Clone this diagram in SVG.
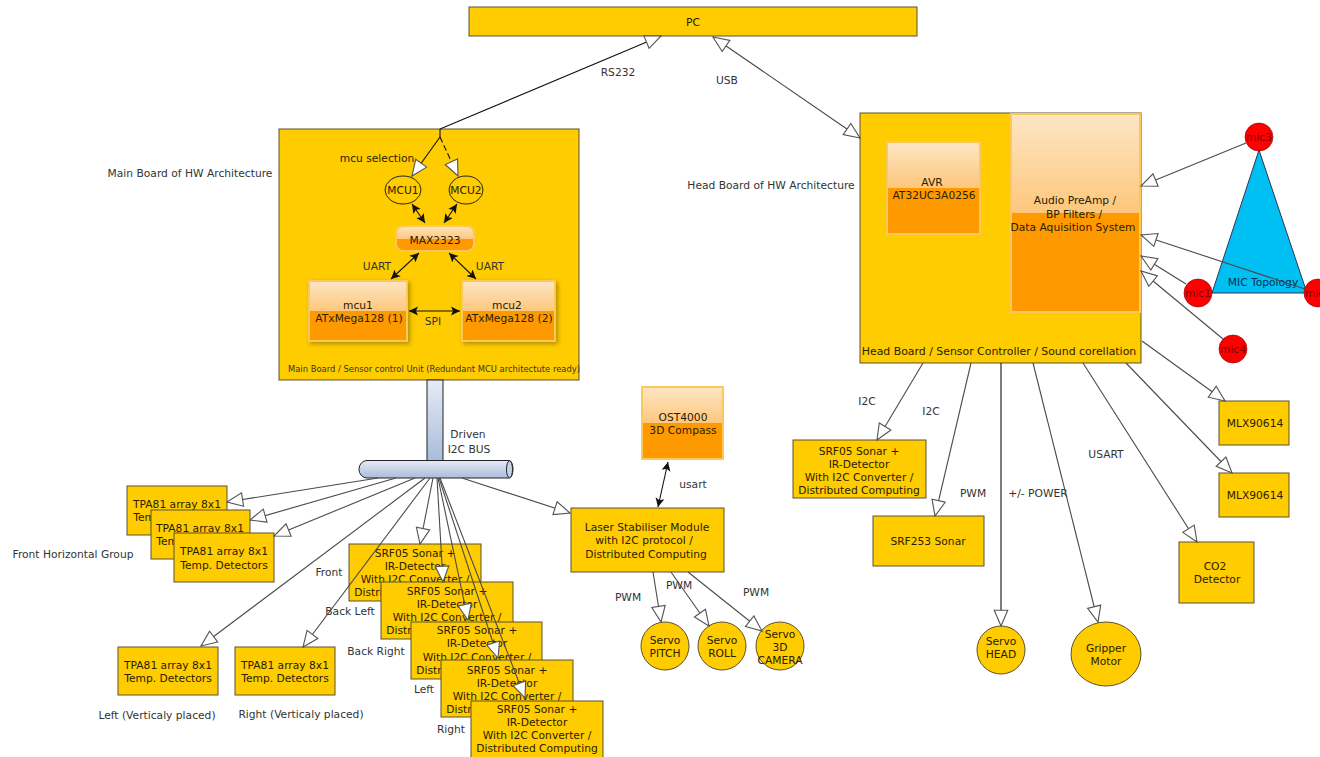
<svg xmlns="http://www.w3.org/2000/svg" width="1320" height="757" viewBox="0 0 1320 757">
<style>
text{font-family:"DejaVu Sans","Liberation Sans",sans-serif;font-size:10.7px;fill:#333;text-anchor:middle}
.b{fill:#fc0;stroke:#5a5030;stroke-width:1}
.g{fill:url(#gl);stroke:#fdc85a;stroke-width:2}
.m{fill:#f00;stroke:#800;stroke-width:.6}
.m2 text{fill:#800}
.t{fill:#2a2000}
.c line,.c path{fill:none;stroke:#4a4a4a;stroke-width:1.1}
.o{marker-end:url(#open)}
.oo{marker-end:url(#open);marker-start:url(#open)}
.d{marker-end:url(#fill);marker-start:url(#fill)}
.k{stroke:#111!important}
</style>
<defs>
<linearGradient id="gl" x1="0" y1="0" x2="0" y2="1"><stop offset="0" stop-color="#fde6c4"/><stop offset=".5" stop-color="#fdc77c"/><stop offset=".5" stop-color="#f90"/><stop offset="1" stop-color="#f90"/></linearGradient>
<linearGradient id="pv" x1="0" y1="0" x2="0" y2="1"><stop offset="0" stop-color="#e6ebf6"/><stop offset="1" stop-color="#a9bcdb"/></linearGradient>
<marker id="open" markerUnits="userSpaceOnUse" markerWidth="18" markerHeight="16" refX="15" refY="7" orient="auto-start-reverse" viewBox="0 0 16 14"><path d="M1 1L15 7L1 13Z" fill="#fff" stroke="#555" stroke-width="1"/></marker>
<marker id="fill" markerUnits="userSpaceOnUse" markerWidth="10" markerHeight="10" refX="9" refY="4.500" orient="auto-start-reverse" viewBox="0 0 10 9"><path d="M0 0L9 4.500L0 9L2 4.500Z" fill="#111"/></marker>
<filter id="sh" x="-10%" y="-10%" width="125%" height="125%"><feDropShadow dx="2" dy="2" stdDeviation="2" flood-color="#000" flood-opacity=".3"/></filter>
</defs>
<g id="labels">
<text x="618" y="76">RS232</text><text x="727" y="84">USB</text>
<text x="190" y="177">Main Board of HW Architecture</text>
<text x="771" y="189">Head Board of HW Architecture</text>
<text x="73" y="558">Front Horizontal Group</text>
<text x="157" y="719">Left (Verticaly placed)</text>
<text x="301" y="718">Right (Verticaly placed)</text>
<text x="329" y="576">Front</text><text x="350" y="615">Back Left</text><text x="376" y="655">Back Right</text><text x="424" y="693">Left</text><text x="451" y="733">Right</text>
<text x="468" y="438">Driven</text><text x="469" y="453">I2C BUS</text>
<text x="693" y="488">usart</text><text x="628" y="601">PWM</text><text x="679" y="589">PWM</text><text x="756" y="596">PWM</text>
<text x="867" y="405">I2C</text><text x="931" y="415">I2C</text><text x="973" y="497">PWM</text><text x="1038" y="497">+/- POWER</text><text x="1106" y="458">USART</text>
</g>
<g id="pc"><rect class="b" x="469" y="7" width="448" height="29"/><text x="693" y="26" class="t">PC</text></g>
<g id="main-board"><rect class="b" x="279" y="129" width="300" height="251"/><text x="434" y="372" style="font-size:8.4px">Main Board / Sensor control Unit (Redundant MCU architectute ready)</text><text x="377" y="162" class="t">mcu selection</text><text x="377" y="270">UART</text><text x="490" y="270">UART</text><text x="433" y="325">SPI</text></g>
<g id="mcu1-sel"><ellipse class="b" cx="403" cy="190" rx="18" ry="14" style="stroke:#222"/><text x="403" y="194" class="t">MCU1</text></g>
<g id="mcu2-sel"><ellipse class="b" cx="466" cy="190" rx="17" ry="14" style="stroke:#222"/><text x="466" y="194" class="t">MCU2</text></g>
<g id="max2323"><rect class="g" x="396" y="226" width="78" height="25" rx="7"/><text x="435" y="244" class="t">MAX2323</text></g>
<g id="mcu1"><rect class="g" filter="url(#sh)" x="309" y="281" width="98" height="60"/><text x="358" y="309" class="t">mcu1</text><text x="359" y="322" class="t">ATxMega128 (1)</text></g>
<g id="mcu2"><rect class="g" filter="url(#sh)" x="462" y="281" width="93" height="60"/><text x="507" y="309" class="t">mcu2</text><text x="509" y="322" class="t">ATxMega128 (2)</text></g>
<g id="head-board"><rect class="b" x="860" y="113" width="281" height="250"/><text x="999" y="355" class="t" style="font-size:10.9px">Head Board / Sensor Controller / Sound corellation</text></g>
<g id="avr"><rect class="g" x="887" y="142" width="93" height="92"/><text x="932" y="186" class="t">AVR</text><text x="934" y="199" class="t">AT32UC3A0256</text></g>
<g id="audio"><rect class="g" x="1011" y="114" width="129" height="198"/><text x="1075" y="204" class="t">Audio PreAmp /</text><text x="1074" y="218" class="t">BP Filters /</text><text x="1073" y="231" class="t">Data Aquisition System</text></g>
<g id="mic-topology"><path d="M1259 150L1307 293H1212Z" fill="#00bff2" stroke="#335"/><text x="1263" y="286" style="fill:#035">MIC Topology</text></g>
<g id="mic3" class="m2"><circle class="m" cx="1259" cy="137" r="14"/><text x="1259" y="141">mic3</text></g>
<g id="mic1" class="m2"><circle class="m" cx="1198" cy="293" r="14"/><text x="1198" y="297">mic1</text></g>
<g id="mic2" class="m2"><circle class="m" cx="1318" cy="293" r="14"/><text x="1318" y="297">mic2</text></g>
<g id="mic4" class="m2"><circle class="m" cx="1233" cy="349" r="14"/><text x="1233" y="353">mic4</text></g>
<g id="bus"><rect x="427" y="380" width="16" height="81" fill="url(#pv)" stroke="#222"/><path d="M367 460.500H509A4 8.700 0 0 1 509 478H367A8 8.700 0 0 1 367 460.500Z" fill="url(#pv)" stroke="#222"/><ellipse cx="509.500" cy="469.300" rx="3" ry="8.500" fill="#c6d2e8" stroke="#222"/></g>
<g id="tpa1"><rect class="b" x="127" y="486" width="100" height="49"/><text x="177" y="508" class="t">TPA81 array 8x1</text><text x="177" y="521" class="t">Temp. Detectors</text></g>
<g id="tpa2"><rect class="b" x="151" y="510" width="99" height="49"/><text x="200" y="532" class="t">TPA81 array 8x1</text><text x="200" y="545" class="t">Temp. Detectors</text></g>
<g id="tpa3"><rect class="b" x="174" y="533" width="100" height="49"/><text x="224" y="555" class="t">TPA81 array 8x1</text><text x="224" y="569" class="t">Temp. Detectors</text></g>
<g id="tpa-left"><rect class="b" x="118" y="647" width="100" height="48"/><text x="168" y="669" class="t">TPA81 array 8x1</text><text x="168" y="682" class="t">Temp. Detectors</text></g>
<g id="tpa-right"><rect class="b" x="235" y="647" width="100" height="48"/><text x="285" y="669" class="t">TPA81 array 8x1</text><text x="285" y="682" class="t">Temp. Detectors</text></g>
<g id="srf1"><rect class="b" x="349" y="544" width="132" height="57"/><text x="415" y="557" class="t">SRF05 Sonar +</text><text x="415" y="570" class="t">IR-Detector</text><text x="415" y="583" class="t">With I2C Converter /</text><text x="415" y="596" class="t">Distributed Computing</text></g>
<g id="srf2"><rect class="b" x="381" y="582" width="132" height="57"/><text x="447" y="595" class="t">SRF05 Sonar +</text><text x="447" y="608" class="t">IR-Detector</text><text x="447" y="621" class="t">With I2C Converter /</text><text x="447" y="634" class="t">Distributed Computing</text></g>
<g id="srf3"><rect class="b" x="411" y="622" width="131" height="57"/><text x="477" y="634" class="t">SRF05 Sonar +</text><text x="477" y="647" class="t">IR-Detector</text><text x="477" y="661" class="t">With I2C Converter /</text><text x="477" y="674" class="t">Distributed Computing</text></g>
<g id="srf4"><rect class="b" x="441" y="660" width="132" height="57"/><text x="507" y="674" class="t">SRF05 Sonar +</text><text x="507" y="687" class="t">IR-Detector</text><text x="507" y="700" class="t">With I2C Converter /</text><text x="507" y="713" class="t">Distributed Computing</text></g>
<g id="srf5"><rect class="b" x="471" y="701" width="132" height="60"/><text x="537" y="713" class="t">SRF05 Sonar +</text><text x="537" y="726" class="t">IR-Detector</text><text x="537" y="739" class="t">With I2C Converter /</text><text x="537" y="752" class="t">Distributed Computing</text></g>
<g id="ost4000"><rect class="g" x="642" y="387" width="81" height="72"/><text x="683" y="421" class="t">OST4000</text><text x="683" y="434" class="t">3D Compass</text></g>
<g id="laser"><rect class="b" x="571" y="508" width="153" height="64"/><text x="647" y="531" class="t">Laser Stabiliser Module</text><text x="644" y="544" class="t">with I2C protocol /</text><text x="646" y="558" class="t">Distributed Computing</text></g>
<g id="servo-pitch"><circle class="b" cx="665" cy="646" r="24"/><text x="665" y="644" class="t">Servo</text><text x="665" y="657" class="t">PITCH</text></g>
<g id="servo-roll"><circle class="b" cx="722" cy="646" r="24"/><text x="722" y="644" class="t">Servo</text><text x="722" y="657" class="t">ROLL</text></g>
<g id="servo-camera"><circle class="b" cx="780" cy="646" r="24"/><text x="780" y="638" class="t">Servo</text><text x="780" y="651" class="t">3D</text><text x="780" y="664" class="t">CAMERA</text></g>
<g id="srf-head"><rect class="b" x="793" y="440" width="133" height="58"/><text x="859" y="455" class="t">SRF05 Sonar +</text><text x="859" y="468" class="t">IR-Detector</text><text x="859" y="481" class="t">With I2C Converter /</text><text x="859" y="494" class="t">Distributed Computing</text></g>
<g id="srf253"><rect class="b" x="873" y="516" width="111" height="50"/><text x="928" y="545" class="t">SRF253 Sonar</text></g>
<g id="servo-head"><circle class="b" cx="1001" cy="650" r="24"/><text x="1001" y="645" class="t">Servo</text><text x="1001" y="658" class="t">HEAD</text></g>
<g id="gripper"><ellipse class="b" cx="1106" cy="654" rx="35" ry="32"/><text x="1106" y="652" class="t">Gripper</text><text x="1106" y="665" class="t">Motor</text></g>
<g id="co2"><rect class="b" x="1179" y="542" width="75" height="61"/><text x="1215" y="570" class="t">CO2</text><text x="1217" y="583" class="t">Detector</text></g>
<g id="mlx1"><rect class="b" x="1219" y="401" width="70" height="44"/><text x="1255" y="427" class="t">MLX90614</text></g>
<g id="mlx2"><rect class="b" x="1219" y="473" width="70" height="44"/><text x="1255" y="499" class="t">MLX90614</text></g>
<g id="connectors" class="c">
<line class="o k" x1="440" y1="129" x2="661" y2="36"/>
<line class="oo" x1="713" y1="37" x2="860" y2="138"/>
<path class="k" d="M440 129V137"/>
<line class="o k" x1="440" y1="137" x2="412" y2="176"/>
<line class="o k" x1="440" y1="137" x2="458" y2="176" stroke-dasharray="6 3"/>
<line class="d k" x1="412" y1="204" x2="425" y2="223"/>
<line class="d k" x1="457" y1="204" x2="444" y2="223"/>
<line class="d k" x1="419" y1="253" x2="391" y2="279"/>
<line class="d k" x1="449" y1="253" x2="476" y2="279"/>
<line class="d k" x1="409" y1="311" x2="460" y2="311"/>
<line class="o" x1="1246" y1="143" x2="1141" y2="186"/>
<line class="o" x1="1308" y1="290" x2="1141" y2="235"/>
<line class="o" x1="1186" y1="284" x2="1141" y2="256"/>
<line class="o" x1="1223" y1="339" x2="1141" y2="271"/>
<line class="o" x1="1142" y1="341" x2="1225" y2="401"/>
<line class="o" x1="1126" y1="363" x2="1232" y2="473"/>
<line class="o" x1="1083" y1="363" x2="1197" y2="542"/>
<line class="o" x1="1033" y1="363" x2="1098" y2="622"/>
<line class="o k" x1="1001" y1="363" x2="1001" y2="626"/>
<line class="o" x1="971" y1="363" x2="935" y2="516"/>
<line class="o" x1="923" y1="363" x2="877" y2="440"/>
<line class="o" x1="378" y1="478" x2="227" y2="502"/>
<line class="o" x1="396" y1="478" x2="250" y2="520"/>
<line class="o" x1="415" y1="478" x2="274" y2="536"/>
<line class="o" x1="425" y1="478" x2="201" y2="646"/>
<line class="o" x1="430" y1="478" x2="303" y2="647"/>
<line class="o" x1="433" y1="478" x2="420" y2="544"/>
<line class="o" x1="437" y1="478" x2="443" y2="582"/>
<line class="o" x1="438" y1="478" x2="468" y2="620"/>
<line class="o" x1="439" y1="478" x2="498" y2="658"/>
<line class="o" x1="440" y1="478" x2="525" y2="698"/>
<line class="o" x1="462" y1="478" x2="570" y2="513"/>
<line class="o" x1="653" y1="572" x2="661" y2="622"/>
<line class="o" x1="671" y1="572" x2="709" y2="626"/>
<line class="o" x1="688" y1="572" x2="762" y2="631"/>
<line class="d k" x1="668" y1="462" x2="658" y2="507"/>
</g>
</svg>
